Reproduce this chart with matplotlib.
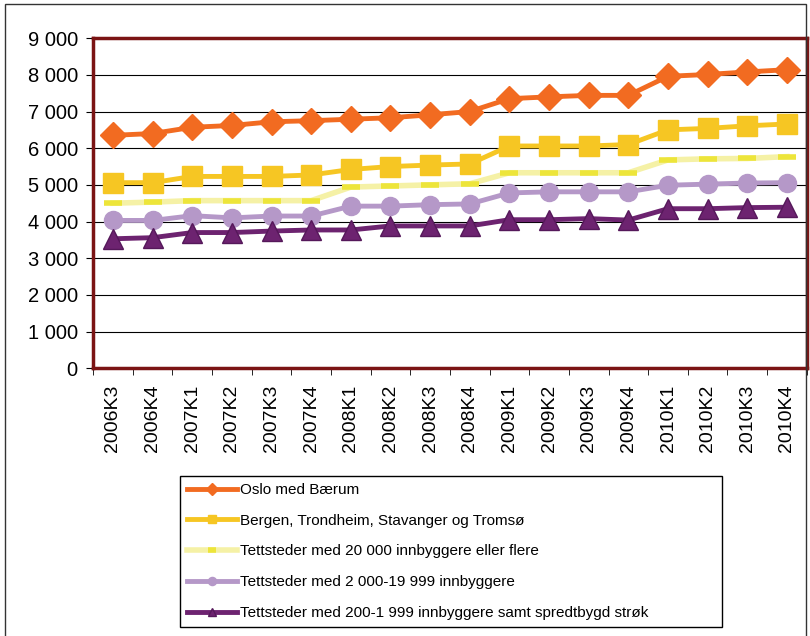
import numpy as np
import matplotlib
matplotlib.use('Agg')
import matplotlib.pyplot as plt
from matplotlib.patches import Rectangle

plt.rcParams['font.family'] = ['Liberation Sans', 'DejaVu Sans']

quarters = ['2006K3', '2006K4', '2007K1', '2007K2', '2007K3', '2007K4',
            '2008K1', '2008K2', '2008K3', '2008K4', '2009K1', '2009K2',
            '2009K3', '2009K4', '2010K1', '2010K2', '2010K3', '2010K4']

oslo = [6350, 6400, 6570, 6620, 6720, 6750, 6790, 6830, 6910, 7000,
        7350, 7400, 7440, 7440, 7960, 8010, 8080, 8140]
storbyer = [5060, 5060, 5230, 5230, 5230, 5270, 5420, 5500, 5540, 5570,
            6060, 6060, 6060, 6100, 6500, 6540, 6610, 6660]
tett_20000 = [4500, 4530, 4570, 4570, 4570, 4570, 4940, 4970, 5000, 5030,
              5330, 5330, 5330, 5330, 5680, 5710, 5720, 5770]
tett_2000 = [4030, 4030, 4160, 4100, 4150, 4150, 4420, 4420, 4460, 4480,
             4780, 4810, 4810, 4810, 4990, 5020, 5050, 5060]
tett_200 = [3530, 3560, 3700, 3700, 3740, 3770, 3770, 3880, 3880, 3880,
            4050, 4050, 4080, 4040, 4350, 4350, 4380, 4390]

yticks = [0, 1000, 2000, 3000, 4000, 5000, 6000, 7000, 8000, 9000]
ytick_labels = ['0', '1 000', '2 000', '3 000', '4 000', '5 000',
                '6 000', '7 000', '8 000', '9 000']

labels = ['Oslo med Bærum',
          'Bergen, Trondheim, Stavanger og Tromsø',
          'Tettsteder med 20 000 innbyggere eller flere',
          'Tettsteder med 2 000-19 999 innbyggere',
          'Tettsteder med 200-1 999 innbyggere samt spredtbygd strøk']

fig = plt.figure(figsize=(8.1, 6.36), dpi=100)
ax = fig.add_axes([0.115, 0.421, 0.881, 0.519])

x = np.arange(len(quarters))
ax.plot(x, oslo, color='#F26B21', lw=3.5, marker='D', ms=13,
        label=labels[0], zorder=5)
ax.plot(x, storbyer, color='#F6C623', lw=3.5, marker='s', ms=14,
        label=labels[1], zorder=5)
ax.plot(x, tett_20000, color='#F5F1A6', lw=4, marker='_', ms=13,
        mew=4, mec='#EDE53A', label=labels[2], zorder=4)
ax.plot(x, tett_2000, color='#B598C8', lw=3.5, marker='o', ms=13,
        label=labels[3], zorder=5)
ax.plot(x, tett_200, color='#6D2370', lw=3.5, marker='^', ms=14,
        mec='#55185A', label=labels[4], zorder=5)

ax.set_xlim(-0.5, len(quarters) - 0.5)
ax.set_ylim(0, 9000)
ax.set_yticks(yticks)
ax.set_yticklabels(ytick_labels, fontsize=14.5)
ax.set_xticks(x)
ax.set_xticklabels(quarters, rotation=90, fontsize=14)
ax.tick_params(axis='x', length=0, pad=12)
ax.set_xticks(np.arange(-0.5, len(quarters), 1), minor=True)
ax.tick_params(axis='x', which='minor', length=5, color='black')
ax.tick_params(axis='y', length=5, direction='out', color='black', pad=6)
ax.grid(axis='y', color='black', lw=0.8)
ax.set_axisbelow(True)
for s in ax.spines.values():
    s.set_color('#7B1414')
    s.set_linewidth(2.5)

ax.legend(loc='upper left', bbox_to_anchor=(180 / 810, 1 - 633 / 636, 542 / 810, 157 / 636),
          bbox_transform=fig.transFigure, mode='expand', fontsize=11,
          frameon=True, fancybox=False, edgecolor='black', framealpha=1,
          handlelength=3.3, handletextpad=0.15, labelspacing=1.1,
          borderaxespad=0, borderpad=0.45, markerscale=0.45)

fig.patches.append(Rectangle((5 / 810, -0.05), 801 / 810, 1 - 4 / 636 + 0.05,
                             transform=fig.transFigure, fill=False,
                             edgecolor='#333333', lw=1))

fig.savefig('out.png', dpi=100)
